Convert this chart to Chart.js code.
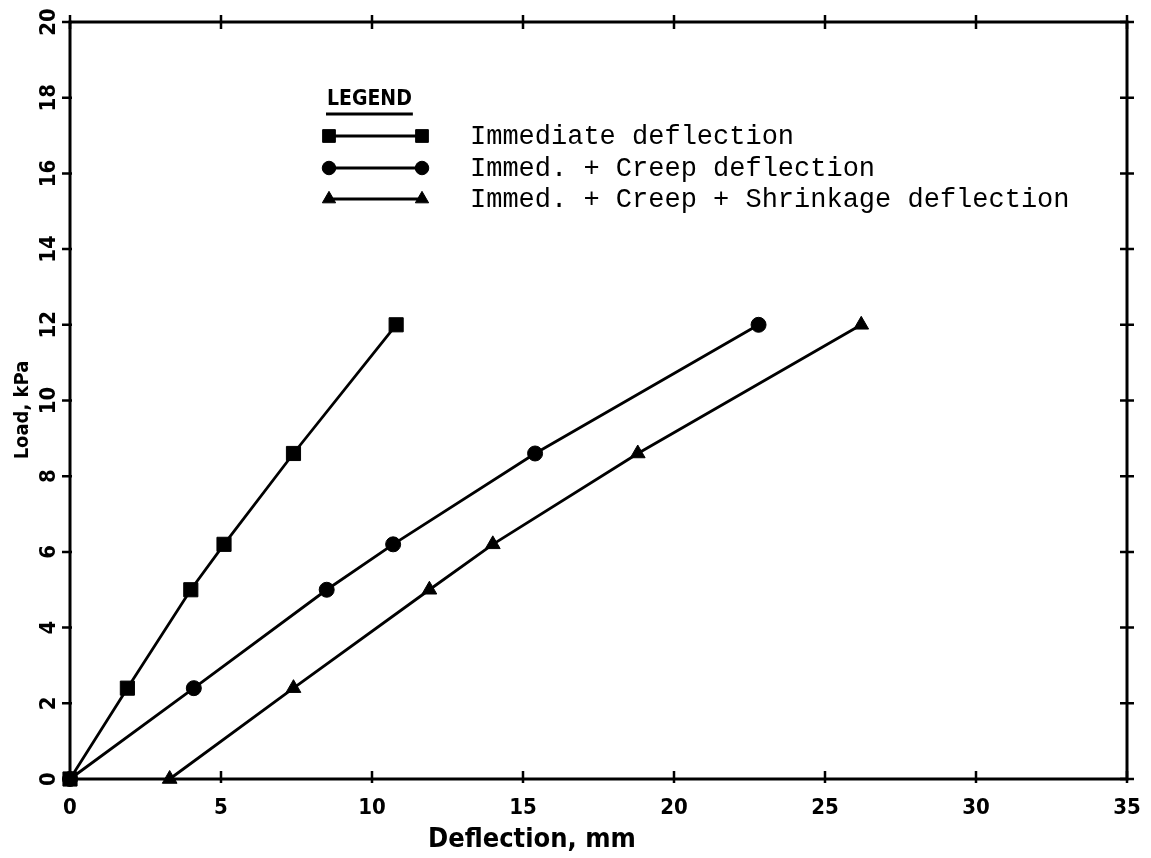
<!DOCTYPE html>
<html>
<head>
<meta charset="utf-8">
<title>Load vs. Deflection</title>
<script src="https://cdn.jsdelivr.net/npm/chart.js@4/dist/chart.umd.min.js"></script>
<style>
  html, body { margin: 0; padding: 0; background: #ffffff; }
  #wrap { width: 1151px; height: 858px; }
</style>
</head>
<body>
<div id="wrap"><canvas id="c" width="1151" height="858"></canvas></div>
<script>
// Load levels (kPa) shared by all three curves
const loadKPa = [0, 2.4, 5.0, 6.2, 8.6, 12.0];

// Deflection (mm) at each load level
const immediateDefl = [0, 1.9, 4.0, 5.1, 7.4, 10.8];
const immedCreepDefl = [0, 4.1, 8.5, 10.7, 15.4, 22.8];
const immedCreepShrinkDefl = [3.3, 7.4, 11.9, 14.0, 18.8, 26.2];

// Series names shown in the legend block
const seriesNames = [
  'Immediate deflection',
  'Immed. + Creep deflection',
  'Immed. + Creep + Shrinkage deflection'
];

// Axis tick labels
const xTickValues = [0, 5, 10, 15, 20, 25, 30, 35];
const yTickValues = [0, 2, 4, 6, 8, 10, 12, 14, 16, 18, 20];

const axisTitleX = 'Deflection, mm';
const axisTitleY = 'Load, kPa';
const legendHeading = 'LEGEND';

const plotFont = '"DejaVu Sans Condensed", "Liberation Sans Narrow", "DejaVu Sans", sans-serif';
const monoFont = '"Liberation Mono", "DejaVu Sans Mono", monospace';

function toPoints(xs, ys) {
  return xs.map((x, i) => ({ x: x, y: ys[i] }));
}

const markerStyles = [
  { pointStyle: 'rect', pointRadius: 10 },
  { pointStyle: 'circle', pointRadius: 7.5 },
  { pointStyle: 'triangle', pointRadius: 8.5 }
];
const seriesData = [immediateDefl, immedCreepDefl, immedCreepShrinkDefl];

const datasets = seriesData.map((xs, i) => ({
  label: seriesNames[i],
  data: toPoints(xs, loadKPa),
  borderColor: '#000',
  backgroundColor: '#000',
  borderWidth: 2.8,
  pointStyle: markerStyles[i].pointStyle,
  pointRadius: markerStyles[i].pointRadius,
  pointHoverRadius: markerStyles[i].pointRadius,
  pointBorderWidth: 1,
  pointBackgroundColor: '#000',
  pointBorderColor: '#000',
  tension: 0,
  clip: false
}));

// Frame, tick marks, tick labels and axis titles
const framePlugin = {
  id: 'plotFrame',
  beforeDatasetsDraw(chart) {
    const { ctx, chartArea: a, scales } = chart;
    const xs = scales.x, ys = scales.y;
    ctx.save();
    ctx.strokeStyle = '#000';
    ctx.lineWidth = 3;
    ctx.strokeRect(a.left, a.top, a.right - a.left, a.bottom - a.top);

    ctx.lineWidth = 2.5;
    ctx.beginPath();
    xTickValues.forEach(v => {
      const px = xs.getPixelForValue(v);
      // bottom ticks (mostly inward)
      ctx.moveTo(px, a.bottom + 4);
      ctx.lineTo(px, a.bottom - 8);
      // top ticks (crossing)
      ctx.moveTo(px, a.top - 7);
      ctx.lineTo(px, a.top + 7);
    });
    yTickValues.forEach(v => {
      const py = ys.getPixelForValue(v);
      // left ticks (mostly outward)
      ctx.moveTo(a.left - 8, py);
      ctx.lineTo(a.left + 2, py);
      // right ticks (crossing)
      ctx.moveTo(a.right - 7, py);
      ctx.lineTo(a.right + 7, py);
    });
    ctx.stroke();

    // tick labels
    ctx.fillStyle = '#000';
    ctx.font = 'bold 22px ' + plotFont;
    ctx.textAlign = 'center';
    ctx.textBaseline = 'middle';
    xTickValues.forEach(v => {
      ctx.fillText(String(v), xs.getPixelForValue(v), a.bottom + 29);
    });
    yTickValues.forEach(v => {
      const py = ys.getPixelForValue(v);
      ctx.save();
      ctx.translate(a.left - 21, py);
      ctx.rotate(-Math.PI / 2);
      ctx.fillText(String(v), 0, 0);
      ctx.restore();
    });

    // axis titles
    ctx.font = 'bold 27px ' + plotFont;
    ctx.textAlign = 'left';
    ctx.fillText(axisTitleX, 428, 840);

    ctx.save();
    ctx.font = 'bold 20px ' + plotFont;
    ctx.translate(23, 410);
    ctx.rotate(-Math.PI / 2);
    ctx.textAlign = 'center';
    ctx.fillText(axisTitleY, 0, 0);
    ctx.restore();
    ctx.restore();
  }
};

// Legend block drawn inside the plot area
const legendBlockPlugin = {
  id: 'legendBlock',
  afterDraw(chart) {
    const ctx = chart.ctx;
    ctx.save();
    ctx.fillStyle = '#000';
    ctx.strokeStyle = '#000';
    ctx.font = 'bold 21px ' + plotFont;
    ctx.textAlign = 'left';
    ctx.textBaseline = 'middle';
    ctx.fillText(legendHeading, 327, 100);
    const w = ctx.measureText(legendHeading).width;
    ctx.lineWidth = 3;
    ctx.beginPath();
    ctx.moveTo(326, 114);
    ctx.lineTo(327 + w + 1, 114);
    ctx.stroke();

    const rowsY = [136, 168, 199];
    const x0 = 329, x1 = 422;
    chart.data.datasets.forEach((ds, i) => {
      const y = rowsY[i];
      ctx.lineWidth = 2.8;
      ctx.beginPath();
      ctx.moveTo(x0, y);
      ctx.lineTo(x1, y);
      ctx.stroke();
      const r = ds.pointRadius * 0.9;
      const opts = { pointStyle: ds.pointStyle, radius: r, rotation: 0, borderWidth: 1 };
      ctx.fillStyle = '#000';
      ctx.lineWidth = 1;
      Chart.helpers.drawPoint(ctx, opts, x0, y);
      Chart.helpers.drawPoint(ctx, opts, x1, y);
      ctx.font = '27px ' + monoFont;
      ctx.fillText(ds.label, 470, y + 1);
    });
    ctx.restore();
  }
};

new Chart(document.getElementById('c'), {
  type: 'line',
  data: { datasets: datasets },
  options: {
    responsive: false,
    animation: false,
    events: [],
    layout: { padding: { left: 70, right: 24, top: 22, bottom: 79 } },
    plugins: { legend: { display: false }, tooltip: { enabled: false }, title: { display: false } },
    scales: {
      x: { type: 'linear', min: 0, max: 35, display: false },
      y: { type: 'linear', min: 0, max: 20, display: false }
    }
  },
  plugins: [framePlugin, legendBlockPlugin]
});
</script>
</body>
</html>
